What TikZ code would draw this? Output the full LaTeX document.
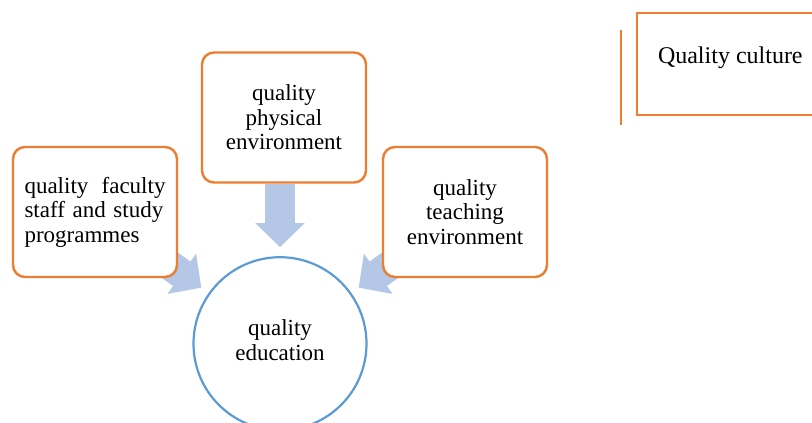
\documentclass[tikz,border=0pt]{standalone}
\usepackage{fontspec}
\setmainfont{Liberation Serif}
\usetikzlibrary{arrows.meta,backgrounds}
\definecolor{boxorange}{HTML}{ED7D31}
\definecolor{circblue}{HTML}{5B9BD5}
\definecolor{arrblue}{HTML}{B4C7E7}
\tikzset{
    qfont/.style={font=\fontsize{23}{24.5}\selectfont},
    qbox/.style={qfont, draw=boxorange, line width=2.4pt, rounded corners=12pt, fill=white,
        minimum width=164pt, minimum height=130pt, align=center},
    bigarrow/.style={arrblue, line width=30pt, -{Triangle[length=24pt,width=48pt]}, shorten >=9pt}
}
\begin{document}
\begin{tikzpicture}[x=1pt, y=-1pt]
    \useasboundingbox (0,0) rectangle (812,423);
    \node[qbox] (phys) at (284,117.5) {quality\\physical\\environment};
    \node[qbox, text width=141pt, align=left] (fac) at (95,212) {quality\hfill faculty\\staff and study\\programmes};
    \node[qbox] (tch) at (465,212) {quality\\teaching\\environment};
    \node[qfont, draw=circblue, line width=2.2pt, circle, minimum size=173pt, inner sep=0pt, align=center] (edu) at (280,343.7) {quality\\education\strut};
    \begin{scope}[on background layer]
        % the arrows start inside the boxes
        \draw[bigarrow] (edu.north |- phys.south) -- (edu.north);
        \foreach \src in {fac,tch}
            \draw[bigarrow] (\src.center) -- (edu);
    \end{scope}
    % Quality culture, cut by the right edge
    \draw[boxorange, line width=2.8pt] (621,30) -- (621,125);
    \node[font=\fontsize{24}{26}\selectfont, draw=boxorange, line width=2.8pt, anchor=text,
        inner xsep=21pt, inner ysep=34pt, text height=16pt, text depth=18pt] (cult) at (658,63) {Quality culture};
\end{tikzpicture}
\end{document}
